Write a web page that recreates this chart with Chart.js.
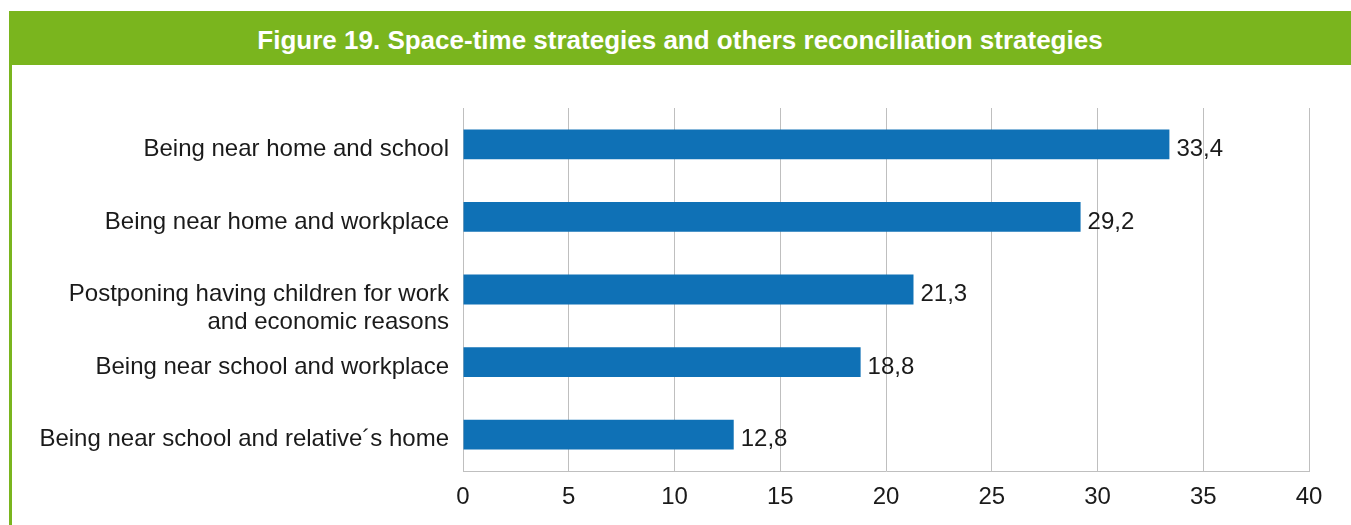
<!DOCTYPE html>
<html>
<head>
<meta charset="utf-8">
<script src="https://cdn.jsdelivr.net/npm/chart.js@4.4.0/dist/chart.umd.min.js"></script>
<style>
  html, body { margin: 0; padding: 0; background: #fff; width: 1351px; height: 525px; overflow: hidden; }
  .title {
    position: absolute; left: 9px; top: 11px; width: 1342px; height: 54px; box-sizing: border-box; padding-top: 4px;
    background: #7ab51e; color: #fff; font: bold 26px "Liberation Sans", Arial, sans-serif;
    display: flex; align-items: center; justify-content: center;
  }
  .edge { position: absolute; left: 9px; top: 65px; width: 3px; height: 460px; background: #7ab51e; }
  .wrap { position: absolute; left: 12px; top: 65px; width: 1339px; height: 460px; }
</style>
</head>
<body>
<div class="title">Figure 19. Space-time strategies and others reconciliation strategies</div>
<div class="edge"></div>
<div class="wrap"><canvas id="chart"></canvas></div>
<script>
const categories = [
  'Being near home and school',
  'Being near home and workplace',
  ['', 'Postponing having children for work', 'and economic reasons'],
  'Being near school and workplace',
  'Being near school and relative´s home'
];
const values = [33.4, 29.2, 21.3, 18.8, 12.8];
const xTicks = [0, 5, 10, 15, 20, 25, 30, 35, 40];

const FONT = '"Liberation Sans", Arial, sans-serif';

// write values next to the bar ends, with a decimal comma
const valueLabels = {
  id: 'valueLabels',
  afterDatasetsDraw(chart) {
    const ctx = chart.ctx;
    const meta = chart.getDatasetMeta(0);
    ctx.save();
    ctx.font = '24px ' + FONT;
    ctx.fillStyle = '#1a1a1a';
    ctx.textAlign = 'left';
    ctx.textBaseline = 'middle';
    meta.data.forEach((bar, i) => {
      ctx.fillText(values[i].toFixed(1).replace('.', ','), bar.x + 7, bar.y + 5);
    });
    ctx.restore();
  }
};

new Chart(document.getElementById('chart'), {
  type: 'bar',
  data: {
    labels: categories,
    datasets: [{ data: values, backgroundColor: '#0f71b6', barPercentage: 0.82, categoryPercentage: 0.5 }]
  },
  options: {
    indexAxis: 'y',
    responsive: true, maintainAspectRatio: false, animation: false,
    layout: { padding: { top: 43, right: 42, bottom: 0, left: 0 } },
    plugins: { legend: { display: false }, tooltip: { enabled: false } },
    scales: {
      x: {
        min: 0, max: 40,
        afterBuildTicks: s => { s.ticks = xTicks.map(v => ({ value: v })); },
        afterFit: s => { s.height = 54; },
        ticks: { color: '#1a1a1a', font: { family: FONT, size: 24 }, padding: 12, autoSkip: false, maxRotation: 0 },
        grid: { color: '#bfbfbf', drawTicks: false, lineWidth: 1 },
        border: { color: '#bfbfbf' }
      },
      y: {
        afterFit: s => { s.width = 451; },
        ticks: { color: '#1a1a1a', font: { family: FONT, size: 24, lineHeight: 1.17 }, padding: 14, labelOffset: 5, autoSkip: false },
        grid: { display: false, drawTicks: false },
        border: { color: '#bfbfbf' }
      }
    }
  },
  plugins: [valueLabels]
});
</script>
</body>
</html>
